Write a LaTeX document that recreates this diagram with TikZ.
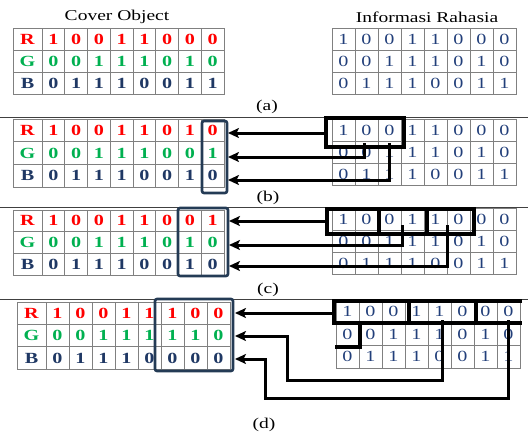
\documentclass[tikz,border=0pt]{standalone}
\usepackage{fontspec}
\setmainfont[FakeStretch=1.3]{Liberation Serif}
\usetikzlibrary{arrows.meta}
\definecolor{rr}{HTML}{FF0000}
\definecolor{gg}{HTML}{00B050}
\definecolor{bb}{HTML}{1F3864}
\definecolor{ib}{HTML}{223F7A}
\definecolor{hb}{HTML}{243B55}
\definecolor{grid}{HTML}{808080}
\tikzset{
  cell/.style={draw=grid, line width=0.9pt},
  cbit/.style={inner sep=0pt, font=\fontsize{15.5}{17}\selectfont\bfseries},
  ibit/.style={inner sep=0pt, text=ib, font=\fontsize{15.5}{17}\selectfont},
  ttl/.style={inner sep=0pt, font=\fontsize{15}{17}\selectfont},
  hbox/.style={draw=hb, line width=2.6pt, rounded corners=2pt},
  sel/.style={draw=black, line width=3.4pt},
  arr/.style={draw=black, line width=3pt, -{Stealth[length=11pt,width=10pt,inset=2.5pt]}},
  sep/.style={draw=black!75, line width=0.9pt}
}
% #1 name, #2 x0, #3 y0, #4 col w, #5 row h, #6 R, #7 G, #8 B
\newcommand\CoverTab[8]{%
  \foreach \row/\lab/\col/\bits in {0/R/rr/{#6},1/G/gg/{#7},2/B/bb/{#8}} {
    \draw[cell] ({#2},{#3+\row*#5}) rectangle ({#2+29},{#3+(\row+1)*#5});
    \node[cbit, text=\col] (#1-\lab) at ({#2+14.5},{#3+(\row+0.5)*#5}) {\lab};
    \foreach \b [count=\i] in \bits {
      \draw[cell] ({#2+29+(\i-1)*#4},{#3+\row*#5}) rectangle ({#2+29+\i*#4},{#3+(\row+1)*#5});
      \node[cbit, text=\col] (#1-\lab-\i) at ({#2+29+(\i-0.5)*#4},{#3+(\row+0.5)*#5}) {\b};
    }
  }
}
% #1 name, #2 x0, #3 y0, #4 col w, #5 row h
\newcommand\InfoTab[5]{%
  \foreach \row/\bits in {0/{1,0,0,1,1,0,0,0},1/{0,0,1,1,1,0,1,0},2/{0,1,1,1,0,0,1,1}} {
    \foreach \b [count=\i] in \bits {
      \draw[cell] ({#2+(\i-1)*#4},{#3+\row*#5}) rectangle ({#2+\i*#4},{#3+(\row+1)*#5});
      \node[ibit] (#1-\row-\i) at ({#2+(\i-0.5)*#4},{#3+(\row+0.5)*#5}) {\b};
    }
  }
}
\begin{document}
\begin{tikzpicture}[x=1pt,y=-1pt]
\path[use as bounding box] (0,0) rectangle (528,434);

% titles
\node[ttl] (tcover) at (117,17) {Cover Object};
\node[ttl] (tinfo) at (427,17) {Informasi Rahasia};

% ---------- (a)
\CoverTab{a}{13}{28}{22.75}{22}{1,0,0,1,1,0,0,0}{0,0,1,1,1,0,1,0}{0,1,1,1,0,0,1,1}
\InfoTab{ai}{332}{28}{23}{22}
\node[ttl] (la) at (267,107) {(a)};
\draw[sep] (0,117) -- (528,117);

% ---------- (b)
\CoverTab{b}{13}{119}{22.75}{22.7}{1,0,0,1,1,0,1,0}{0,0,1,1,1,0,0,1}{0,1,1,1,0,0,1,0}
\InfoTab{bi}{332}{119}{23}{22}
\draw[hbox] (202,121) rectangle (227,193);
\draw[sel] (326,118) rectangle (404,147);
\coordinate (b-s1) at (326,133);
\coordinate (b-s2) at (364,143);
\coordinate (b-s3) at (389,143);
\coordinate (b-t1) at (228,133);
\coordinate (b-t2) at (228,157);
\coordinate (b-t3) at (228,180);
\draw[arr] (b-s1) -- (b-t1);
\draw[arr] (b-s2) |- (b-t2);
\draw[arr] (b-s3) |- (b-t3);
\node[ttl] (lb) at (268,198) {(b)};
\draw[sep] (0,207) -- (528,207);

% ---------- (c)
\CoverTab{c}{13}{210}{22.75}{21.7}{1,0,0,1,1,0,0,1}{0,0,1,1,1,0,1,0}{0,1,1,1,0,0,1,0}
\InfoTab{ci}{332}{208}{23}{22.3}
\draw[hbox] (178,208) rectangle (228,276);
\draw[sel] (327,209) rectangle (379,234);
\draw[sel] (379,209) rectangle (427,234);
\draw[sel] (427,209) rectangle (474,234);
\coordinate (c-s1) at (327,221);
\coordinate (c-s2) at (402,225);
\coordinate (c-s3) at (447,225);
\coordinate (c-t1) at (229,221);
\coordinate (c-t2) at (229,245);
\coordinate (c-t3) at (229,266);
\draw[arr] (c-s1) -- (c-t1);
\draw[arr] (c-s2) |- (c-t2);
\draw[arr] (c-s3) |- (c-t3);
\node[ttl] (lc) at (268,290) {(c)};
\draw[sep] (0,299) -- (528,299);

% ---------- (d)
\CoverTab{d}{17}{302}{23}{22.4}{1,0,0,1,1,1,0,0}{0,0,1,1,1,1,1,0}{0,1,1,1,0,0,0,0}
\InfoTab{di}{336}{300}{23}{22.7}
\draw[hbox] (155,299) rectangle (233,371);
\draw[sel] (334,301) rectangle (409,323);
\draw[sel] (409,301) rectangle (476,323);
\draw[sel] (522,301) -- (476,301) -- (476,323) -- (522,323);
\draw[sel] (334,323) -- (360,323) -- (360,347) -- (335,347);
\coordinate (d-s1) at (334,313);
\coordinate (d-s2) at (442,320);
\coordinate (d-s3) at (508,320);
\coordinate (d-m2a) at (442,380);
\coordinate (d-m2b) at (287,380);
\coordinate (d-m2c) at (287,336);
\coordinate (d-m3a) at (508,398);
\coordinate (d-m3b) at (265,398);
\coordinate (d-m3c) at (265,359);
\coordinate (d-t1) at (235,313);
\coordinate (d-t2) at (235,336);
\coordinate (d-t3) at (235,359);
\draw[arr] (d-s1) -- (d-t1);
\draw[arr] (d-s2) -- (d-m2a) -- (d-m2b) -- (d-m2c) -- (d-t2);
\draw[arr] (d-s3) -- (d-m3a) -- (d-m3b) -- (d-m3c) -- (d-t3);
\node[ttl] (ld) at (264,425) {(d)};
\end{tikzpicture}
\end{document}
